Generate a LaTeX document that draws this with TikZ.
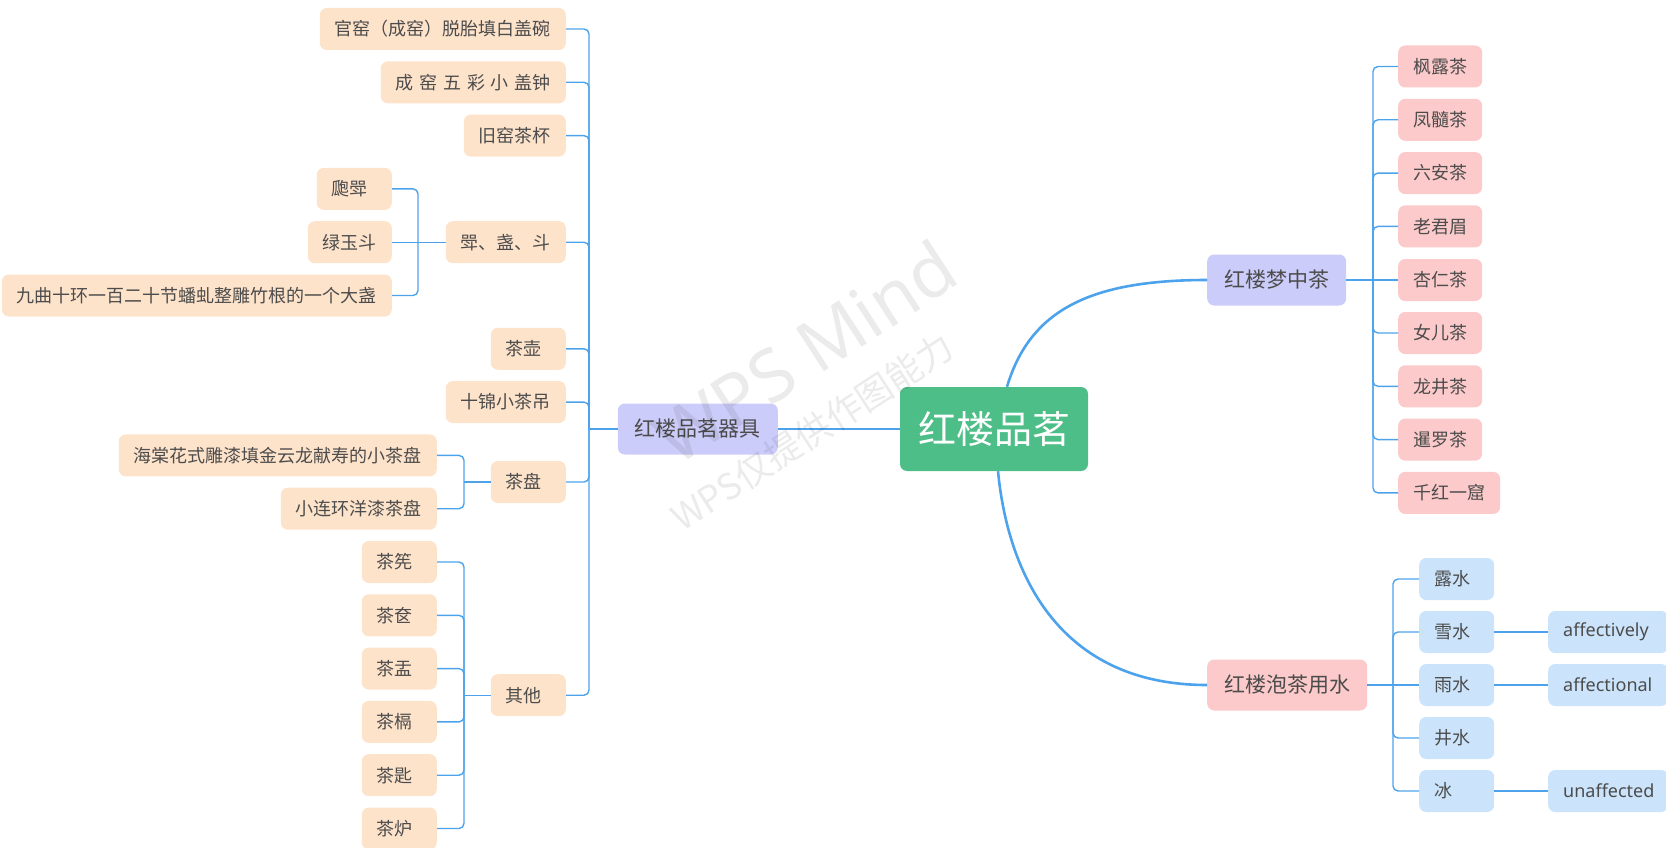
\documentclass[tikz,border=0pt]{standalone}
\usepackage{fontspec}
\setmainfont{Noto Sans CJK SC}
\newfontfamily\enfont{Noto Sans}
\definecolor{rootg}{HTML}{4DBE87}
\definecolor{lav}{HTML}{CCCCFA}
\definecolor{peach}{HTML}{FEE3CB}
\definecolor{pinkc}{HTML}{FCCACA}
\definecolor{bluec}{HTML}{CCE4FB}
\definecolor{linec}{HTML}{4DA3EB}
\definecolor{txt}{HTML}{4C4C4C}
\newcommand{\gp}{\hspace{5.8pt}}
\tikzset{
  leafbox/.style={rounded corners=7pt, minimum height=42pt, inner xsep=15pt, inner ysep=0pt,
    text=txt, font=\fontsize{18pt}{20pt}\selectfont},
  pleaf/.style={leafbox, fill=peach, anchor=east},
  tleaf/.style={leafbox, fill=pinkc, anchor=west},
  wleaf/.style={leafbox, fill=bluec, anchor=west},
  eleaf/.style={leafbox, fill=bluec, anchor=west, text width=90pt, align=left, font=\enfont\fontsize{18pt}{20pt}\selectfont},
  shortbox/.style={text width=45pt, align=left},
  lvlone/.style={rounded corners=7pt, minimum height=51pt, inner xsep=17pt, inner ysep=0pt,
    text=txt, font=\fontsize{21pt}{23pt}\selectfont},
  rootbox/.style={rounded corners=7pt, minimum height=84pt, inner xsep=18pt, inner ysep=0pt,
    fill=rootg, text=white, font=\fontsize{38pt}{40pt}\selectfont},
  mainline/.style={draw=linec, line width=2.6pt},
  stubline/.style={draw=linec, line width=2.2pt},
  brline/.style={draw=linec, line width=1.4pt, rounded corners=5pt},
  wmark/.style={rotate=33, text=black, opacity=0.08},
}
\begin{document}
\begin{tikzpicture}[x=1pt,y=-1pt]
\useasboundingbox (0,0) rectangle (1666,848);

% root and level one
\node[rootbox] (root) at (994,429) {红楼品茗};
\node[lvlone, fill=lav, anchor=east] (qj) at (778,429) {红楼品茗器具};
\node[lvlone, fill=lav, anchor=west] (mz) at (1207,280) {红楼梦中茶};
\node[lvlone, fill=pinkc, anchor=west] (ys) at (1207,685) {红楼泡茶用水};

% left level two
\node[pleaf] (guan) at (566,29) {官窑（成窑）脱胎填白盖碗};
\node[pleaf] (cheng) at (566,82.3) {成\gp 窑\gp 五\gp 彩\gp 小\gp 盖钟};
\node[pleaf] (jiu) at (566,135.6) {旧窑茶杯};
\node[pleaf] (jzd) at (566,242.2) {斝、盏、斗};
\node[pleaf, shortbox] (hu) at (566,348.8) {茶壶};
\node[pleaf] (diao) at (566,402.1) {十锦小茶吊};
\node[pleaf, shortbox] (pan) at (566,482) {茶盘};
\node[pleaf, shortbox] (qita) at (566,695.2) {其他};

% left level three
\node[pleaf, shortbox] (bp) at (392,188.9) {瓟斝};
\node[pleaf] (lyd) at (392,242.2) {绿玉斗};
\node[pleaf] (jq) at (392,295.5) {九曲十环一百二十节蟠虬整雕竹根的一个大盏};
\node[pleaf] (ht) at (437,455.4) {海棠花式雕漆填金云龙献寿的小茶盘};
\node[pleaf] (xlh) at (437,508.7) {小连环洋漆茶盘};
\node[pleaf, shortbox] (q1) at (437,562) {茶筅};
\node[pleaf, shortbox] (q2) at (437,615.3) {茶奁};
\node[pleaf, shortbox] (q3) at (437,668.6) {茶盂};
\node[pleaf, shortbox] (q4) at (437,721.9) {茶槅};
\node[pleaf, shortbox] (q5) at (437,775.2) {茶匙};
\node[pleaf, shortbox] (q6) at (437,828.5) {茶炉};

% teas
\node[tleaf] (t1) at (1398,66.5) {枫露茶};
\node[tleaf] (t2) at (1398,119.8) {凤髓茶};
\node[tleaf] (t3) at (1398,173.1) {六安茶};
\node[tleaf] (t4) at (1398,226.4) {老君眉};
\node[tleaf] (t5) at (1398,280) {杏仁茶};
\node[tleaf] (t6) at (1398,333) {女儿茶};
\node[tleaf] (t7) at (1398,386.3) {龙井茶};
\node[tleaf] (t8) at (1398,439.6) {暹罗茶};
\node[tleaf] (t9) at (1398,492.9) {千红一窟};

% waters
\node[wleaf, shortbox] (w1) at (1419,579) {露水};
\node[wleaf, shortbox] (w2) at (1419,632) {雪水};
\node[wleaf, shortbox] (w3) at (1419,685) {雨水};
\node[wleaf, shortbox] (w4) at (1419,738) {井水};
\node[wleaf, shortbox] (w5) at (1419,791) {冰};
\node[eleaf] (e2) at (1548,632) {affectively};
\node[eleaf] (e3) at (1548,685) {affectional};
\node[eleaf] (e5) at (1548,791) {unaffected};

% main connectors
\draw[mainline] (root.west) -- (qj.east);
\draw[mainline] ([xshift=13pt]root.north) .. controls (1030,310) and (1090,280) .. (mz.west);
\draw[mainline] ([xshift=4pt]root.south) .. controls (1008,575) and (1060,685) .. (ys.west);

% left trunk
\coordinate (tq) at (589,429);
\draw[stubline] (qj.west) -- (tq);
\foreach \c in {guan,cheng,jiu,jzd,hu,diao,pan,qita}{
  \draw[brline] (tq) |- (\c.east);
}
\coordinate (tj) at (418,242.2);
\draw[brline] (jzd.west) -- (lyd.east);
\draw[brline] (tj) |- (bp.east);
\draw[brline] (tj) |- (jq.east);
\coordinate (tp) at (464,482);
\draw[brline] (pan.west) -- (tp);
\draw[brline] (tp) |- (ht.east);
\draw[brline] (tp) |- (xlh.east);
\coordinate (to) at (464,695.2);
\draw[brline] (qita.west) -- (to);
\foreach \c in {q1,q2,q3,q4,q5,q6}{
  \draw[brline] (to) |- (\c.east);
}

% tea trunk
\coordinate (tt) at (1373,280);
\draw[brline] (mz.east) -- (t5.west);
\foreach \c in {t1,t2,t3,t4,t6,t7,t8,t9}{
  \draw[brline] (tt) |- (\c.west);
}

% water trunk
\coordinate (tw) at (1393,685);
\draw[stubline] (ys.east) -- (tw);
\draw[brline] (tw) -- (w3.west);
\foreach \c in {w1,w2,w4,w5}{
  \draw[brline] (tw) |- (\c.west);
}
\draw[brline] (w2.east) -- (e2.west);
\draw[brline] (w3.east) -- (e3.west);
\draw[brline] (w5.east) -- (e5.west);

% watermark
\node[wmark, font=\enfont\fontsize{72pt}{72pt}\selectfont] (wm1) at (805,352) {WPS Mind};
\node[wmark, font=\fontsize{36pt}{36pt}\selectfont] (wm2) at (812,432) {WPS仅提供作图能力};
\end{tikzpicture}
\end{document}
